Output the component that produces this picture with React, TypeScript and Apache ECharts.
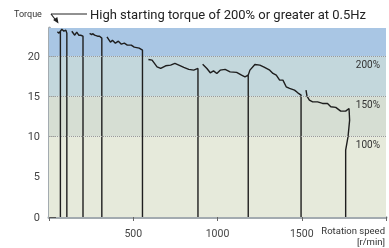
import React, { useEffect, useRef } from "react";
import * as echarts from "echarts";

// Rotation speed [r/min] vs torque, one curve segment per frequency step
const seg1 = [[50, 23.04], [58.8, 22.86], [67.6, 23.1], [67.6, 0]];
const seg2 = [[67.6, 23.1], [76.5, 23.35], [88.2, 23.1], [100, 23.23], [105.9, 22.86], [105.9, 0]];
const seg3 = [[135.3, 23.1], [152.9, 22.6], [164.7, 22.98], [176.5, 22.6], [188.2, 22.6], [201.8, 22.48], [201.8, 0]];
const seg4 = [[241, 22.82], [252.9, 22.67], [258.8, 22.8], [270.6, 22.61], [288.2, 22.48], [300, 22.48], [313.5, 22.24], [313.5, 0]];
const seg5 = [[344, 22.4], [364.7, 21.74], [376.5, 21.99], [394.1, 21.61], [411.8, 21.86], [429.4, 21.49], [447, 21.61], [464.7, 21.37], [488.2, 21.37], [505.9, 21.12], [535.3, 20.99], [554.7, 20.75], [554.7, 0]];
const seg6 = [[590, 19.59], [611.8, 19.5], [641.2, 18.67], [662.9, 18.47], [692.4, 18.8], [721.8, 18.88], [747.1, 19.09], [770.6, 18.88], [800, 18.6], [829.4, 18.35], [858.8, 18.26], [884.1, 18.47], [884.1, 0]];
const seg7 = [[911.8, 19.0], [937.1, 18.47], [957.1, 17.93], [976.5, 18.17], [995.9, 17.85], [1015.9, 18.26], [1045.3, 18.35], [1074.7, 18.05], [1113.5, 17.98], [1142.9, 17.64], [1162.9, 17.43], [1182.4, 17.64], [1182.4, 0]];
const seg8 = [[1182.4, 17.64], [1192.4, 18.26], [1221.8, 18.97], [1251.2, 18.88], [1276.5, 18.63], [1310, 18.26], [1329.4, 17.85], [1348.8, 17.64], [1368.8, 17.02], [1388.2, 17.02], [1407.6, 16.19], [1427.6, 15.99], [1457.1, 15.78], [1476.5, 15.44], [1495.9, 15.16], [1495.9, 0]];
const seg9 = [[1525.3, 15.78], [1531.2, 15.03], [1545.3, 14.53], [1564.7, 14.32], [1594.1, 14.32], [1623.5, 14.12], [1652.9, 14.12], [1672.4, 13.7], [1701.8, 13.63], [1731.2, 13.17], [1760.6, 13.17], [1780.6, 13.5], [1784.1, 12.05], [1774.7, 9.98], [1760.6, 8.32], [1760.6, 0]];
const segments = [seg1, seg2, seg3, seg4, seg5, seg6, seg7, seg8, seg9];

const bandBounds = [0, 10, 15, 20, 23.5];
const bandColors = ["#e6eadb", "#d6ded3", "#c3d7dc", "#a9c6e4"];
const levelValues = [20, 15, 10];
const levelLabels = ["200%", "150%", "100%"];

const xTicks = [0, 500, 1000, 1500, 2000];
const yTicks = [0, 5, 10, 15, 20];
const titleText = "High starting torque of 200% or greater at 0.5Hz";

export default function App() {
  const ref = useRef<HTMLDivElement>(null);
  useEffect(() => {
    if (!ref.current) return;
    const chart = echarts.init(ref.current, null, { renderer: "svg" });
    const font = "Roboto, 'Noto Sans', sans-serif";
    const bands = bandColors.map((c, i) => [
      { yAxis: bandBounds[i], itemStyle: { color: c } },
      { yAxis: bandBounds[i + 1] },
    ]);
    const levels = levelValues.map((v, i) => ({
      yAxis: v,
      label: { formatter: levelLabels[i] },
    }));
    chart.setOption({
      animation: false,
      grid: { left: 49, right: 0, top: 28, bottom: 31 },
      xAxis: {
        type: "value",
        min: xTicks[0],
        max: xTicks[xTicks.length - 1],
        interval: 500,
        axisLine: { show: true, lineStyle: { color: "#a3abb0", width: 3 } },
        axisTick: { show: true, length: 4, lineStyle: { color: "#666", width: 1 } },
        axisLabel: {
          margin: 11,
          fontSize: 10.5,
          color: "#444",
          fontFamily: font,
          formatter: (v: number) => (v === 0 || v === 2000 ? "" : String(v)),
        },
        splitLine: { show: false },
      },
      yAxis: {
        type: "value",
        min: 0,
        max: bandBounds[bandBounds.length - 1],
        interval: 5,
        axisLine: { show: true, lineStyle: { color: "#a3abb0", width: 3 } },
        axisTick: { show: true, inside: true, length: 7, lineStyle: { color: "#555", width: 1 }, customValues: yTicks },
        axisLabel: { margin: 9, fontSize: 11, color: "#444", fontFamily: font, customValues: yTicks },
        splitLine: { show: false },
      },
      series: [
        {
          type: "line",
          data: [],
          z: 1,
          silent: true,
          markArea: { silent: true, data: bands },
          markLine: {
            silent: true,
            symbol: "none",
            lineStyle: { type: "dotted", color: "#9a9a9a", width: 1 },
            label: {
              position: "insideEndBottom",
              color: "#333",
              fontSize: 10,
              fontFamily: font,
              distance: [6, 3],
            },
            data: levels,
          },
        },
        ...segments.map((s) => ({
          type: "line",
          data: s,
          z: 3,
          symbol: "none",
          silent: true,
          lineStyle: { color: "#1e1e1e", width: 1.4 },
        })),
      ],
      graphic: [
        { type: "text", left: 14, top: 9, style: { text: "Torque", fontSize: 9, fill: "#333", fontFamily: font } },
        { type: "line", shape: { x1: 51, y1: 14, x2: 87, y2: 14 }, style: { stroke: "#222", lineWidth: 1 } },
        { type: "line", shape: { x1: 51, y1: 14, x2: 56, y2: 20.5 }, style: { stroke: "#222", lineWidth: 1.2 } },
        { type: "polygon", shape: { points: [[58.5, 23.5], [57.3, 17.1], [53.1, 19.9]] }, style: { fill: "#222" } },
        { type: "text", x: 90, y: 14, style: { text: titleText, fontSize: 13, fill: "#222", fontFamily: font, verticalAlign: "middle" } },
        { type: "text", x: 385, y: 230, style: { text: "Rotation speed", fontSize: 9.5, fill: "#333", fontFamily: font, align: "right", verticalAlign: "middle" } },
        { type: "text", x: 385, y: 241.5, style: { text: "[r/min]", fontSize: 9.5, fill: "#333", fontFamily: font, align: "right", verticalAlign: "middle" } },
      ],
    });
    return () => chart.dispose();
  }, []);
  return <div ref={ref} style={{ width: 389, height: 248, position: "fixed", left: 0, top: 0 }} />;
}
